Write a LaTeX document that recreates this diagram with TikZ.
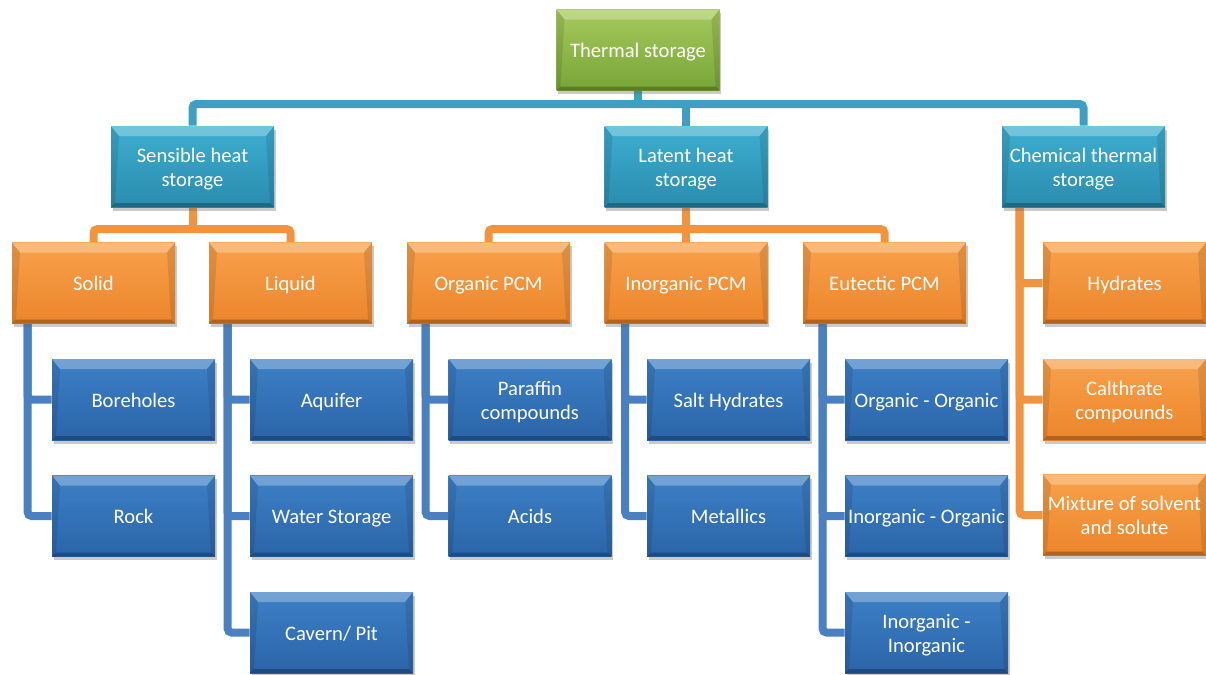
\documentclass[tikz,border=0pt]{standalone}
\usepackage{fontspec}
\setmainfont{Carlito}
\usetikzlibrary{shadows,calc}
\pgfdeclarelayer{bg}
\pgfsetlayers{bg,main}
\definecolor{gtop}{HTML}{A6C95C}
\definecolor{gbot}{HTML}{78A538}
\definecolor{ttop}{HTML}{3DAED0}
\definecolor{tbot}{HTML}{2A8CAE}
\definecolor{otop}{HTML}{F8A14C}
\definecolor{obot}{HTML}{EC852A}
\definecolor{btop}{HTML}{3D80C6}
\definecolor{bbot}{HTML}{2B64A8}
\definecolor{tline}{HTML}{3F9FC2}
\definecolor{oline}{HTML}{F29340}
\definecolor{bline}{HTML}{4A80C0}
\newcommand{\ls}{\rule[-2.1pt]{0pt}{12pt}}
\tikzset{
  boxbase/.style={rectangle, minimum width=81.5pt, minimum height=40.5pt, inner sep=1pt,
    text=white, align=center, font=\fontsize{10.3}{12}\selectfont,
    drop shadow={shadow xshift=0.8pt, shadow yshift=-1.8pt, opacity=0.35, fill=black!60},
    path picture={
      \fill[white,opacity=0.28] (path picture bounding box.north west) -- (path picture bounding box.north east)
        -- ([xshift=-4pt,yshift=-5pt]path picture bounding box.north east) -- ([xshift=4pt,yshift=-5pt]path picture bounding box.north west) -- cycle;
      \fill[black,opacity=0.10] (path picture bounding box.north west) -- ([xshift=4pt,yshift=-5pt]path picture bounding box.north west)
        -- ([xshift=2pt,yshift=2pt]path picture bounding box.south west) -- (path picture bounding box.south west) -- cycle;
      \fill[black,opacity=0.10] (path picture bounding box.north east) -- ([xshift=-4pt,yshift=-5pt]path picture bounding box.north east)
        -- ([xshift=-2pt,yshift=2pt]path picture bounding box.south east) -- (path picture bounding box.south east) -- cycle;
      \fill[black,opacity=0.25] (path picture bounding box.south west) -- ([xshift=2pt,yshift=2pt]path picture bounding box.south west)
        -- ([xshift=-2pt,yshift=2pt]path picture bounding box.south east) -- (path picture bounding box.south east) -- cycle;
    }},
  greenbox/.style={boxbase, top color=gtop, bottom color=gbot},
  tealbox/.style={boxbase, top color=ttop, bottom color=tbot},
  orangebox/.style={boxbase, top color=otop, bottom color=obot},
  bluebox/.style={boxbase, top color=btop, bottom color=bbot},
  tconn/.style={draw=tline, line width=4pt, rounded corners=2pt},
  oconn/.style={draw=oline, line width=4pt, rounded corners=2pt},
  bconn/.style={draw=bline, line width=4pt, rounded corners=2pt},
}
\begin{document}
\begin{tikzpicture}[x=0.5pt,y=-0.5pt]
\useasboundingbox (0,0) rectangle (1206,675);
% level 1
\node[greenbox] (ts) at (638,50) {Thermal storage\ls};
% level 2
\node[tealbox] (sens) at (192.5,166.5) {Sensible heat\ls\\storage\ls};
\node[tealbox] (lat) at (686,166.5) {Latent heat\ls\\storage\ls};
\node[tealbox] (chem) at (1083.5,166.5) {Chemical thermal\ls\\storage\ls};
% level 3
\node[orangebox] (solid) at (93.5,283) {Solid\ls};
\node[orangebox] (liquid) at (290.5,283) {Liquid\ls};
\node[orangebox] (org) at (488.5,283) {Organic PCM\ls};
\node[orangebox] (inorg) at (686,283) {Inorganic PCM\ls};
\node[orangebox] (eut) at (884.5,283) {Eutectic PCM\ls};
\node[orangebox] (hyd) at (1124.5,283) {Hydrates\ls};
\node[orangebox] (cal) at (1124.5,399.5) {Calthrate\ls\\compounds\ls};
\node[orangebox] (mix) at (1124.5,515) {Mixture of solvent\ls\\and solute\ls};
% level 4
\node[bluebox] (bore) at (133.5,399.5) {Boreholes\ls};
\node[bluebox] (rock) at (133.5,516) {Rock\ls};
\node[bluebox] (aqu) at (331.5,399.5) {Aquifer\ls};
\node[bluebox] (water) at (331.5,516) {Water Storage\ls};
\node[bluebox] (cav) at (331.5,632.5) {Cavern/ Pit\ls};
\node[bluebox] (par) at (530,399.5) {Paraffin\ls\\compounds\ls};
\node[bluebox] (acid) at (530,516) {Acids\ls};
\node[bluebox] (salt) at (728.5,399.5) {Salt Hydrates\ls};
\node[bluebox] (met) at (728.5,516) {Metallics\ls};
\node[bluebox] (oo) at (926.5,399.5) {Organic - Organic\ls};
\node[bluebox] (io) at (926.5,516) {Inorganic - Organic\ls};
\node[bluebox] (ii) at (926.5,632.5) {Inorganic -\ls\\Inorganic\ls};
\coordinate (barA) at (0,104);
\coordinate (barB) at (0,229);
\begin{pgfonlayer}{bg}
% teal connectors
\draw[tconn] (ts.south) -- (ts.south |- barA);
\draw[tconn] (sens.north) |- (chem.north |- barA) -- (chem.north);
\draw[tconn] (lat.north) -- (lat.north |- barA);
% orange connectors
\draw[oconn] (sens.south) -- (sens.south |- barB);
\draw[oconn] (solid.north) |- (liquid.north |- barB) -- (liquid.north);
\draw[oconn] (lat.south) -- (inorg.north);
\draw[oconn] (org.north) |- (eut.north |- barB) -- (eut.north);
\draw[oconn] ([xshift=9pt]chem.south west) |- (hyd.west);
\draw[oconn] ([xshift=9pt]chem.south west) |- (cal.west);
\draw[oconn] ([xshift=9pt]chem.south west) |- (mix.west);
% blue connectors
\draw[bconn] ([xshift=8pt]solid.south west) |- (bore.west);
\draw[bconn] ([xshift=8pt]solid.south west) |- (rock.west);
\draw[bconn] ([xshift=9.5pt]liquid.south west) |- (aqu.west);
\draw[bconn] ([xshift=9.5pt]liquid.south west) |- (water.west);
\draw[bconn] ([xshift=9.5pt]liquid.south west) |- (cav.west);
\draw[bconn] ([xshift=9.5pt]org.south west) |- (par.west);
\draw[bconn] ([xshift=9.5pt]org.south west) |- (acid.west);
\draw[bconn] ([xshift=10.5pt]inorg.south west) |- (salt.west);
\draw[bconn] ([xshift=10.5pt]inorg.south west) |- (met.west);
\draw[bconn] ([xshift=10pt]eut.south west) |- (oo.west);
\draw[bconn] ([xshift=10pt]eut.south west) |- (io.west);
\draw[bconn] ([xshift=10pt]eut.south west) |- (ii.west);
\end{pgfonlayer}
\end{tikzpicture}
\end{document}
